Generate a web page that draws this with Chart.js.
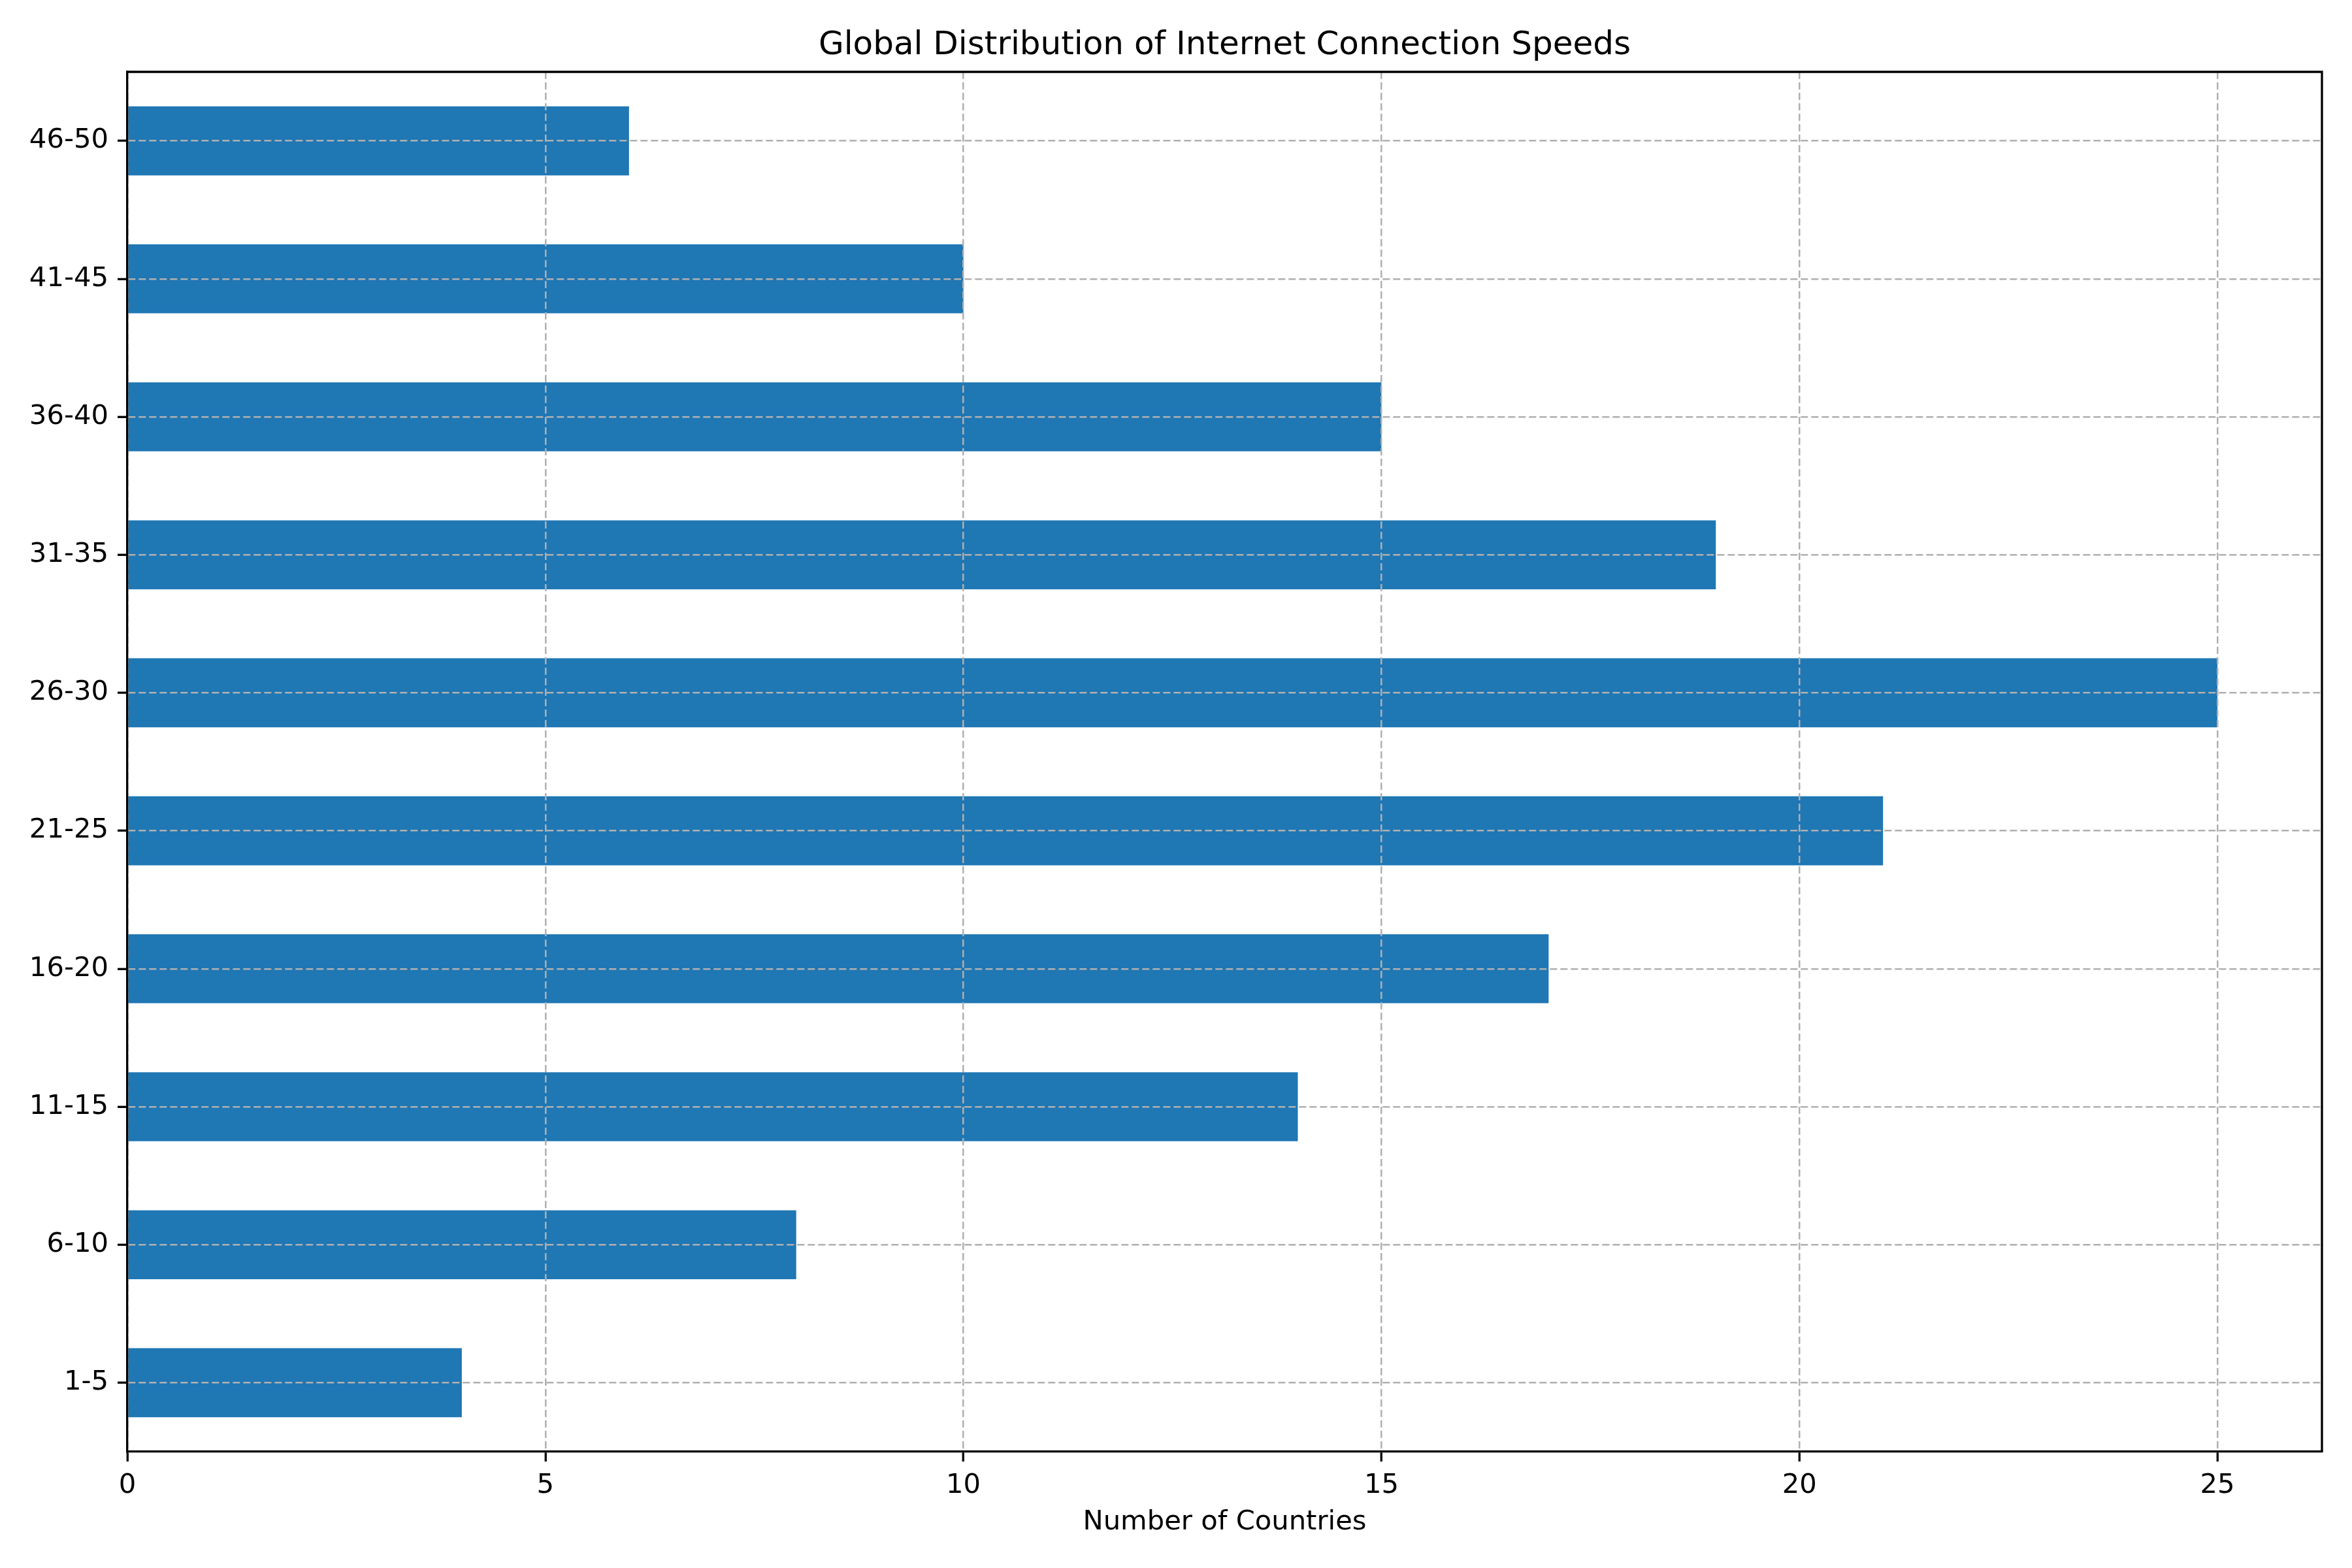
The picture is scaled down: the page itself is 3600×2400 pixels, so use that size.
<!DOCTYPE html>
<html lang="en">
<head>
    <meta charset="UTF-8">
    <title>Global Distribution of Internet Connection Speeds</title>
    <script src="https://cdn.jsdelivr.net/npm/chart.js"></script>
    <style>
        body {
            margin: 0;
            background-color: #ffffff;
        }
        #speedChart {
            display: block;
        }
    </style>
</head>
<body>
    <canvas id="speedChart" width="3600" height="2400"></canvas>
    <script>
        // speed buckets (bottom to top) and number of countries in each
        const speedRanges = ['1-5', '6-10', '11-15', '16-20', '21-25', '26-30', '31-35', '36-40', '41-45', '46-50'];
        const countryCounts = [4, 8, 14, 17, 21, 25, 19, 15, 10, 6];
        const xTickValues = [0, 5, 10, 15, 20, 25];
        const xMax = 26.25;

        const textFont = 'DejaVu Sans';
        const gridColor = '#b0b0b0';

        // top and right spines, and title centred over the plot area
        const framePlugin = {
            id: 'frame',
            afterLayout(chart) {
                if (chart.titleBlock) {
                    chart.titleBlock.left = chart.chartArea.left;
                    chart.titleBlock.right = chart.chartArea.right;
                }
            },
            afterDraw(chart) {
                const { ctx, chartArea } = chart;
                ctx.save();
                ctx.strokeStyle = '#000000';
                ctx.lineWidth = 3.3;
                ctx.beginPath();
                ctx.moveTo(chartArea.left, chartArea.top);
                ctx.lineTo(chartArea.right, chartArea.top);
                ctx.lineTo(chartArea.right, chartArea.bottom);
                ctx.stroke();
                ctx.restore();
            }
        };

        new Chart(document.getElementById('speedChart').getContext('2d'), {
            type: 'bar',
            data: {
                labels: speedRanges,
                datasets: [{
                    label: 'Number of Countries',
                    data: countryCounts,
                    backgroundColor: '#1f77b4',
                    barPercentage: 0.5,
                    categoryPercentage: 1.0
                }]
            },
            options: {
                indexAxis: 'y',
                responsive: false,
                devicePixelRatio: 1,
                animation: false,
                layout: {
                    padding: { left: 0, right: 46, top: 0, bottom: 0 }
                },
                plugins: {
                    legend: { display: false },
                    tooltip: { enabled: false },
                    title: {
                        display: true,
                        text: 'Global Distribution of Internet Connection Speeds',
                        color: '#000000',
                        font: { family: textFont, size: 50, weight: 'normal' },
                        padding: { top: 40, bottom: 10 }
                    }
                },
                scales: {
                    x: {
                        min: 0,
                        max: xMax,
                        afterFit: (scale) => { scale.height = 178; },
                        afterBuildTicks: (scale) => {
                            scale.ticks = xTickValues.map(v => ({ value: v }));
                        },
                        grid: {
                            z: 1,
                            color: gridColor,
                            lineWidth: 2.5,
                            drawTicks: true,
                            tickLength: 15,
                            tickColor: '#000000',
                            tickWidth: 3.3,
                            tickBorderDash: []
                        },
                        border: {
                            display: true,
                            z: 2,
                            color: '#000000',
                            width: 3.3,
                            dash: [11, 5]
                        },
                        ticks: {
                            color: '#000000',
                            padding: 12,
                            maxRotation: 0,
                            font: { family: textFont, size: 41.7 }
                        },
                        title: {
                            display: true,
                            text: 'Number of Countries',
                            color: '#000000',
                            font: { family: textFont, size: 41.7 },
                            padding: { top: 0, bottom: 45 }
                        }
                    },
                    y: {
                        reverse: true,
                        offset: true,
                        afterFit: (scale) => { scale.width = 195; },
                        grid: {
                            z: 1,
                            offset: false,
                            color: gridColor,
                            lineWidth: 2.5,
                            drawTicks: true,
                            tickLength: 15,
                            tickColor: '#000000',
                            tickWidth: 3.3,
                            tickBorderDash: []
                        },
                        border: {
                            display: true,
                            z: 2,
                            color: '#000000',
                            width: 3.3,
                            dash: [11, 5]
                        },
                        ticks: {
                            color: '#000000',
                            padding: 14,
                            font: { family: textFont, size: 41.7 }
                        }
                    }
                }
            },
            plugins: [framePlugin]
        });
    </script>
</body>
</html>
